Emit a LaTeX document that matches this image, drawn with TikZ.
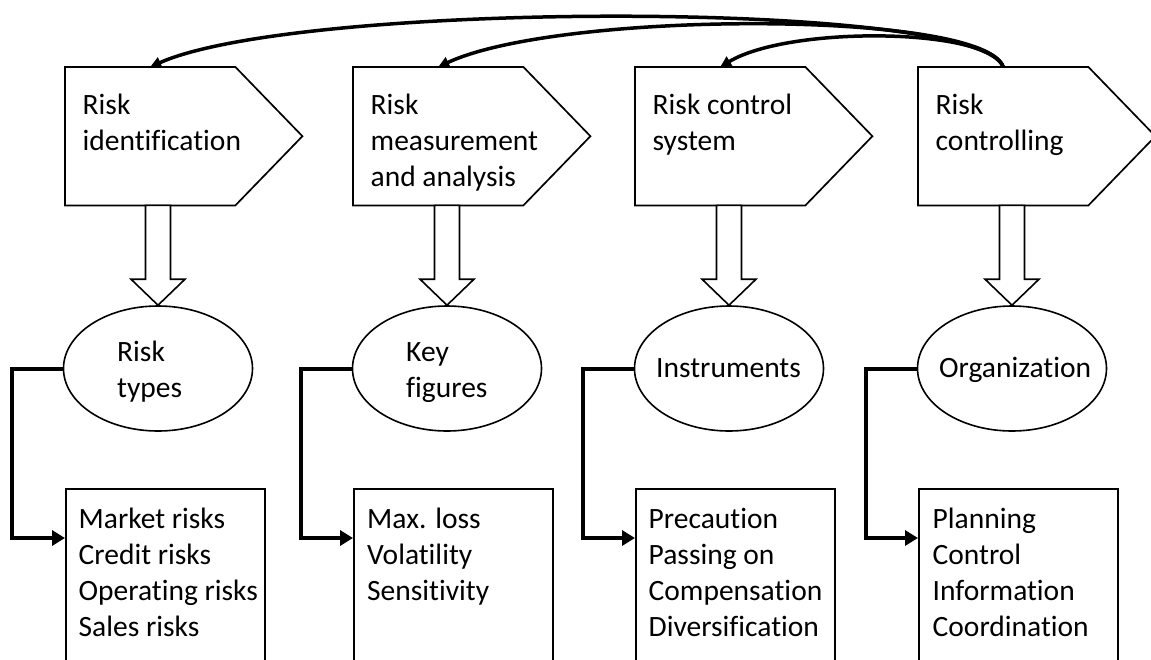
\documentclass[tikz,border=0pt]{standalone}
\usepackage{fontspec}
\setmainfont{Carlito}[Ligatures=NoCommon]
\usetikzlibrary{arrows.meta,calc,shapes.geometric}
\begin{document}
\begin{tikzpicture}[x=1pt,y=-1pt,
  pentline/.style={draw=black, line width=1.7pt, fill=white, line join=miter},
  rectpart/.style={rectangle, minimum width=170pt, minimum height=138pt, inner sep=0pt, anchor=north west},
  oval/.style={ellipse, draw=black, line width=1.6pt, fill=white, minimum width=189pt, minimum height=125pt, inner sep=0pt},
  listbox/.style={rectangle, draw=black, line width=1.7pt, fill=white, minimum width=199pt, minimum height=220pt, inner sep=0pt, anchor=north west},
  txt/.style={anchor=north west, inner sep=0pt, align=left, font=\fontsize{29.5}{36}\selectfont},
  blockarrow/.style={draw=black, line width=1.6pt, fill=white, line join=miter},
  elbow/.style={line width=4pt, -{Triangle[length=13pt,width=15pt]}},
  loop/.style={line width=3.5pt, -{Triangle[length=11pt,width=11pt]}}
]
\useasboundingbox (0,0) rectangle (1151,659);
\clip (0,0) rectangle (1151,659);

% pentagons (process steps)
\foreach \i/\x in {1/65,2/353,3/635,4/918}{
  \node[rectpart] (p\i) at (\x,67) {};
  \draw[pentline] (p\i.north west) -- (p\i.north east) -- ($(p\i.east)+(67,0)$) -- (p\i.south east) -- (p\i.south west) -- cycle;
}
\node[txt] (t1) at (82.5,88.8) {\strut Risk\\identification};
\node[txt] (t2) at (370.5,88.8) {\strut Risk\\measurement\\and analysis};
\node[txt] (t3) at (652.5,88.8) {\strut Risk control\\system};
\node[txt] (t4) at (935.5,88.8) {\strut Risk\\controlling};

% ellipses
\node[oval] (e1) at (158,368.5) {};
\node[oval] (e2) at (447,368.5) {};
\node[oval] (e3) at (729,368.5) {};
\node[oval] (e4) at (1012,368.5) {};
\node[txt] (o1) at (117,335.8) {\strut Risk\\types};
\node[txt] (o2) at (406,335.8) {\strut Key\\figures};
\node[txt] (o3) at (656,351.8) {\strut Instruments};
\node[txt] (o4) at (939,351.8) {\strut Organization};

% block arrows
\foreach \i in {1,2,3,4}{
  \draw[blockarrow] (e\i.north) -- ($(e\i.north)+(-27,-26)$) -- ($(e\i.north)+(-12.5,-26)$)
    -- ($(e\i.north |- p\i.south)+(-12.5,0)$) -- ($(e\i.north |- p\i.south)+(12.5,0)$)
    -- ($(e\i.north)+(12.5,-26)$) -- ($(e\i.north)+(27,-26)$) -- cycle;
}

% list boxes
\node[listbox] (b1) at (65,488) {};
\node[listbox] (b2) at (353,488) {};
\node[listbox] (b3) at (635,488) {};
\node[listbox] (b4) at (918,488) {};
\node[txt] (l1) at (78.5,502.8) {\strut Market risks\\Credit risks\\Operating risks\\Sales risks};
\node[txt] (l2) at (367,502.8) {\strut Max. loss\\Volatility\\Sensitivity};
\node[txt] (l3) at (648.5,502.8) {\strut Precaution\\Passing on\\Compensation\\Diversification};
\node[txt] (l4) at (932.5,502.8) {\strut Planning\\Control\\Information\\Coordination};

% elbow connectors
\foreach \i in {1,2,3,4}{
  \coordinate (a\i) at ($(b\i.north west)+(0,50)$);
  \draw[elbow] (e\i.west) -- ++(-51,0) |- (a\i);
}

% feedback loops
\draw[loop] (p4.north) .. controls (980,0) and (300,0) .. (p1.north);
\draw[loop] (p4.north) .. controls (985,10) and (560,10) .. (p2.north);
\draw[loop] (p4.north) .. controls (990,28) and (790,25) .. (p3.north);
\end{tikzpicture}
\end{document}
